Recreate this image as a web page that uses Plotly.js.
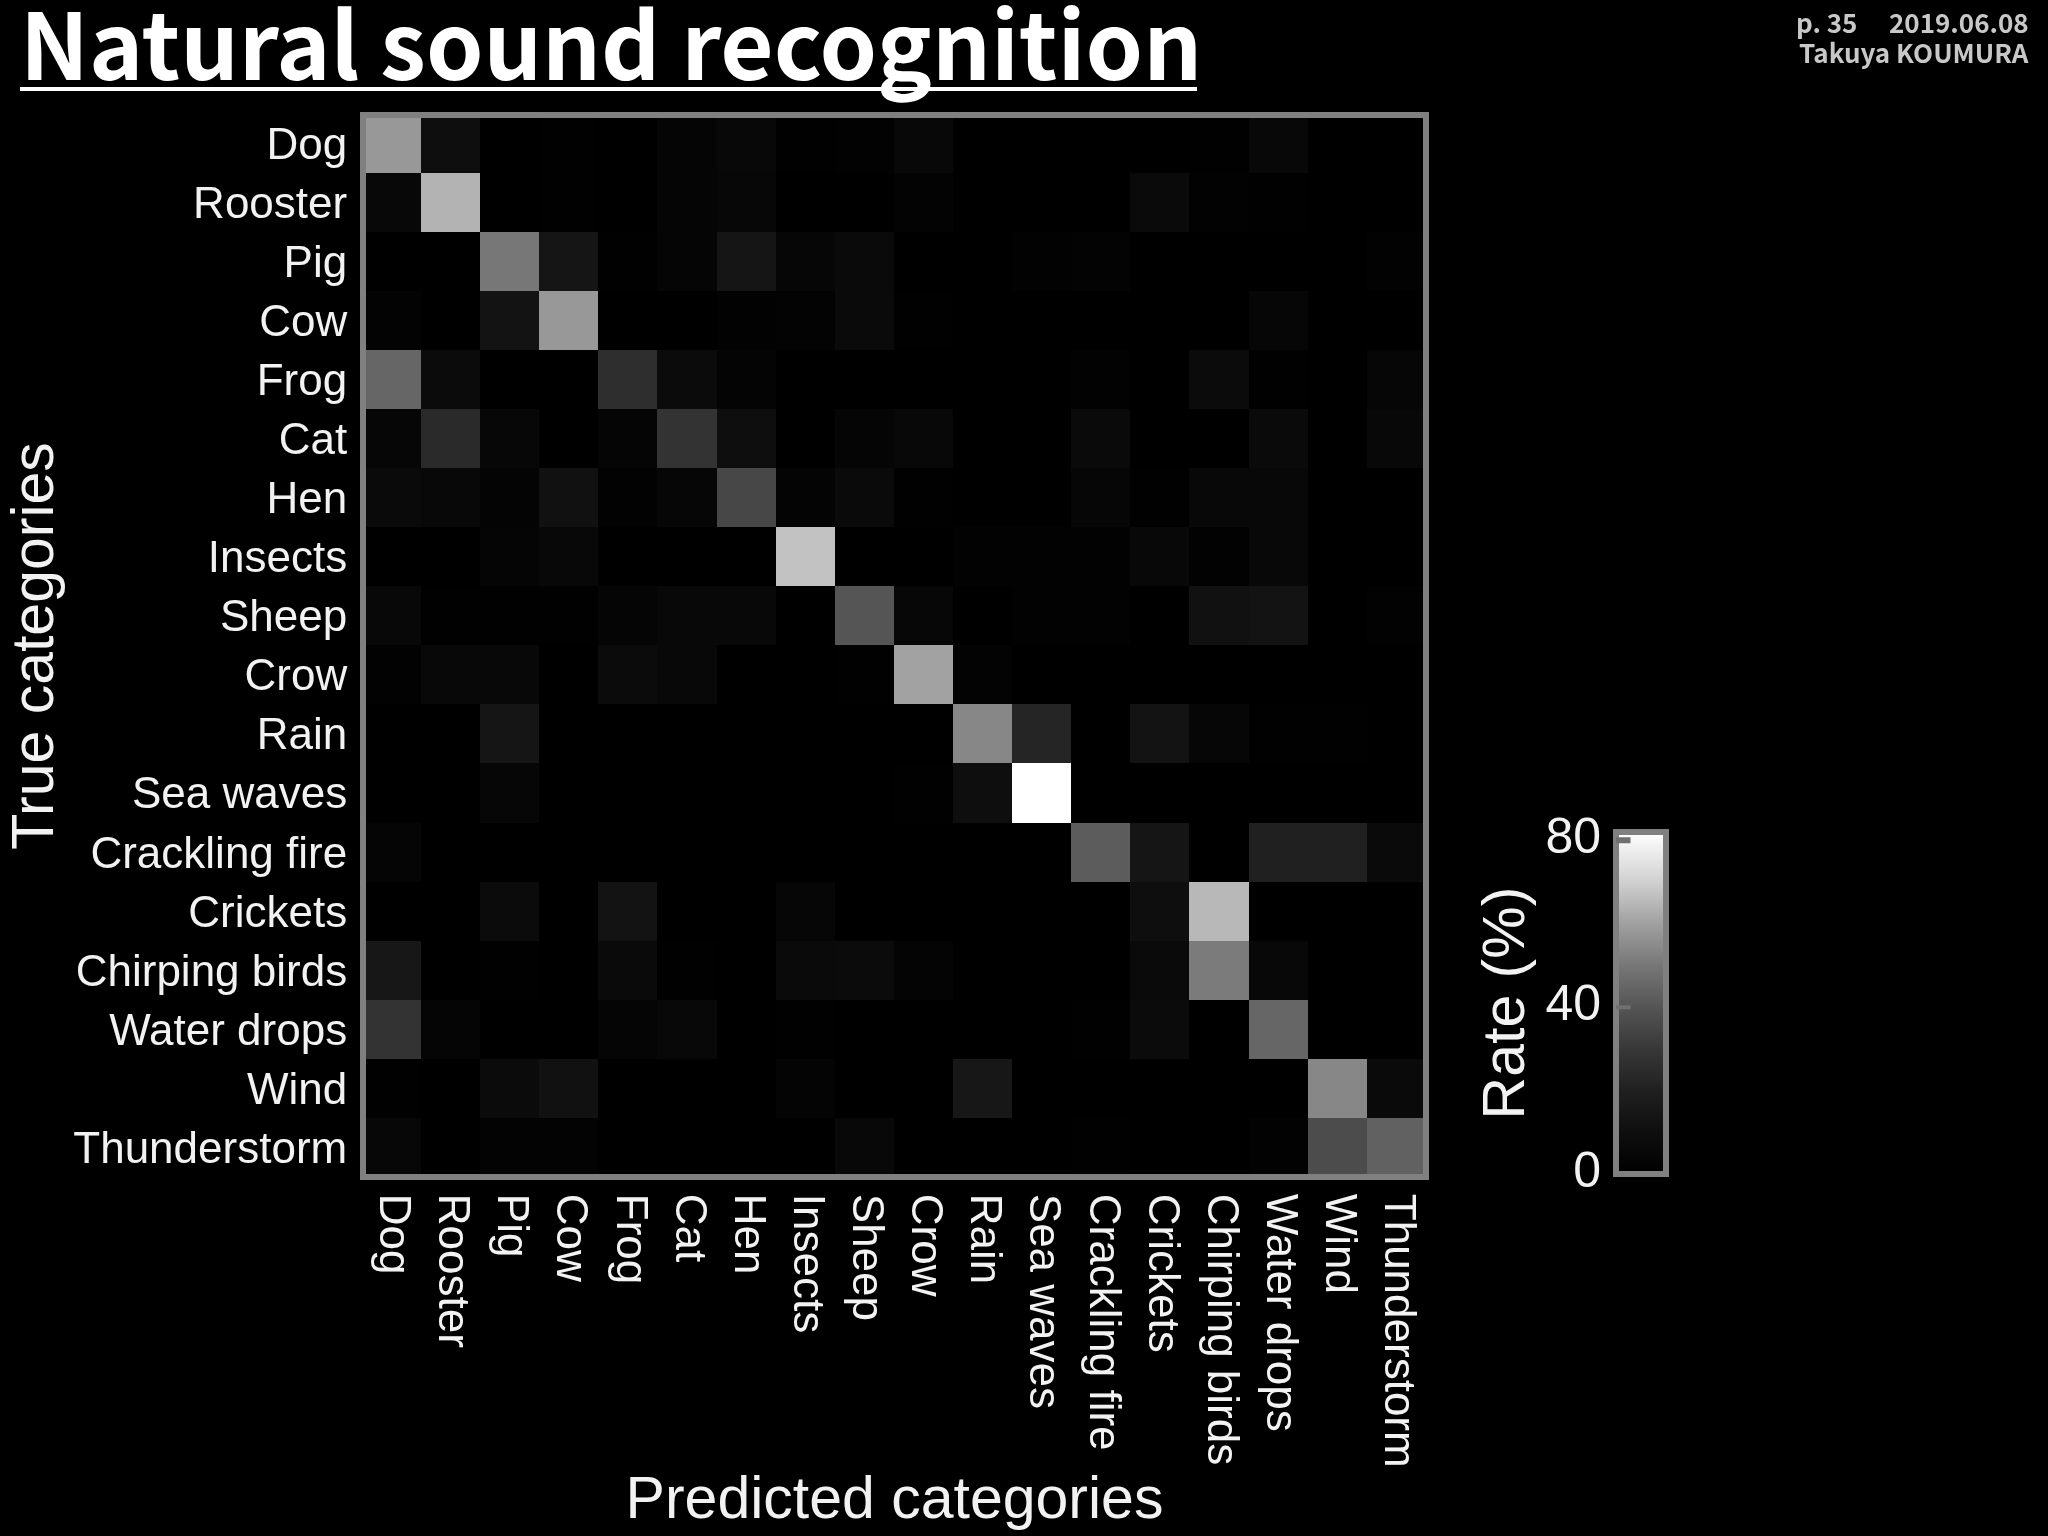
<!DOCTYPE html>
<html>
<head>
<meta charset="utf-8">
<script src="https://cdn.plot.ly/plotly-3.0.1.min.js"></script>
<style>html,body{margin:0;padding:0;background:#000}#g{width:2048px;height:1536px;filter:blur(0.6px)}</style>
</head>
<body>
<div id="g"></div>
<script>
const categories = ["Dog","Rooster","Pig","Cow","Frog","Cat","Hen","Insects","Sheep","Crow","Rain","Sea waves","Crackling fire","Crickets","Chirping birds","Water drops","Wind","Thunderstorm"];
const rowDog        = [58,10,0,0.5,0,3.5,5.5,1,1.5,5.5,0,0,0,0,0.5,5.5,0,0];
const rowRooster    = [5.5,64,0,1,0,3.5,5,0,0,2,0,0,0,7,1.5,1,0,0];
const rowPig        = [0,0,50,14,1,3.5,14,4,7,0,0,1.5,2,0,0,0,0,1.5];
const rowCow        = [2,0,13,58,0,0,1.5,2,7,1,0,0,0,0,0,4,0,0];
const rowFrog       = [45,8,0,0,26,8,3,0,0,0,0,0,1.5,0,8,1,0,4];
const rowCat        = [4,24,5,0,3.5,28,10,0,3.5,5.5,0,0,7,0,0,7,0,5.5];
const rowHen        = [7,6,3,11.5,1.5,4,35,3,7,1,0,0,4,1,5.5,5.5,0,0];
const rowInsects    = [0,0,3.5,6,0,0,0,67,0,0,1.5,1.5,1.5,5.5,1.5,5.5,0,0];
const rowSheep      = [5.5,1,1,1,3.5,5.5,5.5,0,40,5,0,1.5,1.5,0,11.5,13,0,1.5];
const rowCrow       = [1.5,5.5,5.5,0,7.5,6,0,0,1,60.5,2,0,0,0,0,0,0,0];
const rowRain       = [0,0,14,0,0,0,0,0,0,0,54,22,0,13,4,1,1,0];
const rowSeaWaves   = [0,0,4,0,0,0,0,0,0,1,10,82,0,0,0,0,0,0];
const rowCrackling  = [3.5,0,0,0,0,0,0,0,0,0,0,0,42,14,0,20,20,7];
const rowCrickets   = [0,0,8,0,13,0,0,4,0,0,0,0,0,10,65,0,0,0];
const rowChirping   = [15,0,0.5,0,7,1,0,7,8,3,0,0,0,7,51,6,0,0];
const rowWater      = [28,3.5,0,0,3.5,6,0,1,0,0,0,0,1,7.5,0,45,0,0];
const rowWind       = [1,0,8,11.5,0,0,0,3,0,0,15,0,0,0,0,0,54,7];
const rowThunder    = [5,0,2,2,0,0,0,0,5.5,0,0,0,1,0,0,1.5,37,43.5];
const matrix = [rowDog,rowRooster,rowPig,rowCow,rowFrog,rowCat,rowHen,rowInsects,rowSheep,rowCrow,rowRain,rowSeaWaves,rowCrackling,rowCrickets,rowChirping,rowWater,rowWind,rowThunder];

const scaleMax = 82;
const rateTicks = [0,40,80];
const innerTicks = [40,80];
const scaleValues = [0,10,20,30,40,50,60,70,82];
const scaleGreys  = ["#000000","#0e0e0e","#202020","#383838","#555555","#777777","#a0a0a0","#d0d0d0","#ffffff"];
const W = 2048, H = 1536;
const indices = categories.map((c,i)=>i);
const LINE = "#808080", TXT = "#f2f2f2", ARIAL = '"Liberation Sans", Arial, sans-serif', JP = '"Noto Sans CJK JP", "Noto Sans", sans-serif';

const traces = [{
  type:"heatmap", z:matrix, x:indices, y:indices,
  zmin:0, zmax:scaleMax, zsmooth:false, hoverinfo:"skip",
  colorscale: scaleValues.map((v,i)=>[v/scaleMax, scaleGreys[i]]),
  colorbar:{
    thickness:50, thicknessmode:"pixels", len:342, lenmode:"pixels",
    x:1616/W, xref:"paper", xanchor:"left", y:1-1174/H, yref:"paper", yanchor:"bottom",
    xpad:0, ypad:0, outlinewidth:6, outlinecolor:LINE, borderwidth:0,
    ticks:"", showticklabels:false
  }
},{
  type:"scatter", x:[], y:[], xaxis:"x2", yaxis:"y2", mode:"markers", showlegend:false, hoverinfo:"skip"
}];

const tickMarks = innerTicks.map(v=>({
  text:" ", xref:"x2", yref:"y2", x:0, y:v, ax:16, ay:0, showarrow:true, arrowhead:0, arrowwidth:v===80?6:4,
  arrowcolor:"#707070", standoff:0, startstandoff:0, font:{size:1}
}));

const layout = {
  width:W, height:H, paper_bgcolor:"#000", plot_bgcolor:"#000",
  margin:{l:0,r:0,t:0,b:0,pad:0}, showlegend:false,
  font:{family:ARIAL,color:TXT,size:44},
  xaxis:{
    domain:[366/W,1423/W], range:[-0.43,17.45], tickmode:"array", tickvals:indices, ticktext:categories,
    tickangle:90, tickfont:{family:ARIAL,size:44,color:TXT}, ticks:"", ticklen:0, showgrid:false, zeroline:false,
    showline:true, linewidth:6, linecolor:LINE, mirror:true, side:"bottom", automargin:false,
    ticklabelstandoff:5, ticklabelshift:3,
    title:{text:"Predicted categories",font:{family:ARIAL,size:59,color:TXT},standoff:12}
  },
  yaxis:{
    domain:[1-1174/H,1-118/H], range:[17.45,-0.43], tickmode:"array", tickvals:indices, ticktext:categories,
    tickfont:{family:ARIAL,size:44,color:TXT}, ticks:"", ticklen:0, showgrid:false, zeroline:false,
    showline:true, linewidth:6, linecolor:LINE, mirror:true, automargin:false, ticklabelstandoff:4,
    title:{text:"True categories",font:{family:ARIAL,size:59,color:TXT},standoff:12}
  },
  xaxis2:{domain:[1616/W,1666/W], range:[0,1], anchor:"y2", visible:false, fixedrange:true},
  yaxis2:{
    domain:[1-1174/H,1-832/H], range:[0,scaleMax], anchor:"x2", side:"left", tickmode:"array", tickvals:rateTicks,
    ticks:"", showgrid:false, zeroline:false, showline:false, automargin:false, ticklabelshift:-5, ticklabelstandoff:14,
    tickfont:{family:ARIAL,size:50,color:TXT},
    title:{text:"Rate (%)",font:{family:ARIAL,size:59,color:TXT},standoff:1}
  },
  annotations:[
    {text:"<b>Natural sound recognition</b>",xref:"paper",yref:"paper",x:18/W,y:1-39/H,xanchor:"left",yanchor:"middle",showarrow:false,font:{family:JP,size:92,color:"#fff"}},
    {text:"<b>p. 35</b>",xref:"paper",yref:"paper",x:1794/W,y:1-22/H,xanchor:"left",yanchor:"middle",showarrow:false,font:{family:JP,size:26,color:"#c8c8c8"}},
    {text:"<b>2019.06.08</b>",xref:"paper",yref:"paper",x:2031/W,y:1-22/H,xanchor:"right",yanchor:"middle",showarrow:false,font:{family:JP,size:26,color:"#c8c8c8"}},
    {text:"<b>Takuya KOUMURA</b>",xref:"paper",yref:"paper",x:2031/W,y:1-52/H,xanchor:"right",yanchor:"middle",showarrow:false,font:{family:JP,size:26,color:"#c8c8c8"}},
    ...tickMarks
  ],
  shapes:[{type:"line",xref:"paper",yref:"paper",x0:20/W,x1:1197/W,y0:1-89/H,y1:1-89/H,line:{color:"#fff",width:4}}]
};
Plotly.newPlot("g",traces,layout,{staticPlot:true,displayModeBar:false});
</script>
</body>
</html>
